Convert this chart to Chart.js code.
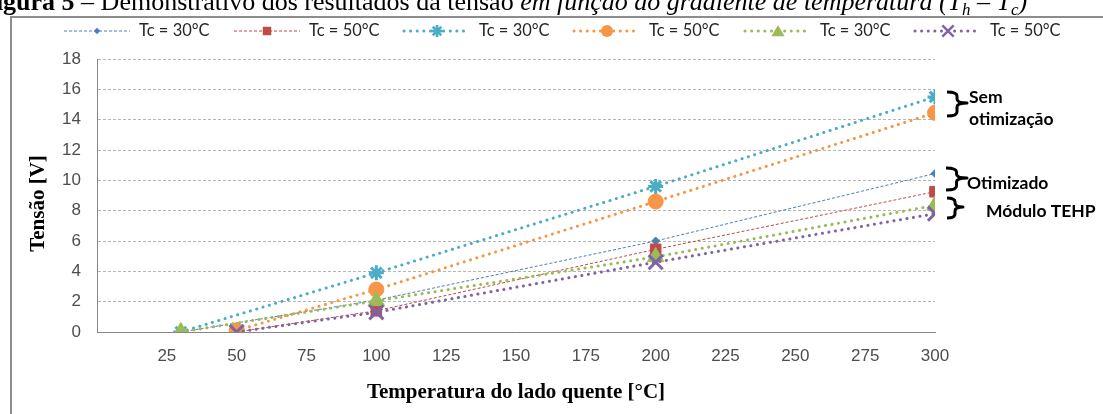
<!DOCTYPE html>
<html>
<head>
<meta charset="utf-8">
<script src="https://cdn.jsdelivr.net/npm/chart.js@4/dist/chart.umd.min.js"></script>
<style>
html,body{margin:0;padding:0;background:#fff;}
#c{display:block;}
</style>
</head>
<body>
<canvas id="c" width="1103" height="414"></canvas>
<script>
// ---- data ----
const tempsTc30 = [30, 100, 200, 300];
const tempsTc50 = [50, 100, 200, 300];
const otimizado30 = [0, 2.1, 6.0, 10.45];
const otimizado50 = [0, 1.4, 5.45, 9.25];
const semOtim30 = [0, 3.9, 9.6, 15.5];
const semOtim50 = [0.1, 2.8, 8.6, 14.45];
const tehp30 = [0, 2.05, 4.95, 8.35];
const tehp50 = [0, 1.3, 4.6, 7.8];
const seriesLabels = ['Tc = 30°C', 'Tc = 50°C', 'Tc = 30°C', 'Tc = 50°C', 'Tc = 30°C', 'Tc = 50°C'];
const xTickStep = 25;
const yTickStep = 2;
const xTitle = 'Temperatura do lado quente [°C]';
const yTitle = 'Tensão [V]';

function pts(xs, ys) { return xs.map((x, i) => ({x: x, y: ys[i]})); }

const styles = [
  {color:'#4A7EBB', width:1, dash:[3,2], cap:'butt', ps:'rectRot', r:4, pbw:1},
  {color:'#BE4B48', width:1, dash:[3,2], cap:'butt', ps:'rect', r:7.5, pbw:1},
  {color:'#4BACC6', width:3, dash:[0.1,6.5], cap:'round', ps:'star', r:7.5, pbw:3},
  {color:'#F79646', width:3, dash:[0.1,6.5], cap:'round', ps:'circle', r:7.5, pbw:1},
  {color:'#9BBB59', width:3, dash:[0.1,6.5], cap:'round', ps:'triangle', r:9.5, pbw:1},
  {color:'#8064A2', width:3, dash:[0.1,6.5], cap:'round', ps:'crossRot', r:10, pbw:3}
];
const seriesData = [
  pts(tempsTc30, otimizado30), pts(tempsTc50, otimizado50),
  pts(tempsTc30, semOtim30), pts(tempsTc50, semOtim50),
  pts(tempsTc30, tehp30), pts(tempsTc50, tehp50)
];

const datasets = seriesData.map((d, i) => ({
  label: seriesLabels[i],
  data: d,
  borderColor: styles[i].color,
  backgroundColor: styles[i].color,
  borderWidth: styles[i].width,
  borderDash: styles[i].dash,
  borderCapStyle: styles[i].cap,
  pointStyle: styles[i].ps,
  pointRadius: styles[i].r,
  pointBorderWidth: styles[i].pbw,
  pointBorderColor: styles[i].color,
  pointBackgroundColor: styles[i].color,
  tension: 0,
  order: 5 - i
}));

function marker(ctx, ps, x, y, r, bw, color) {
  ctx.save();
  ctx.fillStyle = color; ctx.strokeStyle = color; ctx.lineWidth = bw;
  ctx.setLineDash([]);
  ctx.beginPath();
  if (ps === 'circle') { ctx.arc(x, y, r, 0, Math.PI*2); ctx.fill(); }
  else if (ps === 'rect') { const s = r/Math.SQRT2; ctx.rect(x-s, y-s, 2*s, 2*s); ctx.fill(); }
  else if (ps === 'rectRot') { ctx.moveTo(x, y-r); ctx.lineTo(x+r, y); ctx.lineTo(x, y+r); ctx.lineTo(x-r, y); ctx.closePath(); ctx.fill(); }
  else if (ps === 'triangle') {
    for (let k = 0; k < 3; k++) { const a = -Math.PI/2 + k*2*Math.PI/3; const px = x + Math.cos(a)*r, py = y + Math.sin(a)*r + r*0.2; k ? ctx.lineTo(px, py) : ctx.moveTo(px, py); }
    ctx.closePath(); ctx.fill();
  } else if (ps === 'star') {
    for (let k = 0; k < 4; k++) { const a = k*Math.PI/4; ctx.moveTo(x - Math.cos(a)*r, y - Math.sin(a)*r); ctx.lineTo(x + Math.cos(a)*r, y + Math.sin(a)*r); }
    ctx.stroke();
  } else if (ps === 'crossRot') {
    const o = r*Math.SQRT1_2;
    ctx.moveTo(x-o, y-o); ctx.lineTo(x+o, y+o); ctx.moveTo(x+o, y-o); ctx.lineTo(x-o, y+o); ctx.stroke();
  }
  ctx.restore();
}

function brace(ctx, x, yTop, yBot, yTip, w) {
  const r = 4;
  ctx.beginPath();
  ctx.moveTo(x, yTop);
  ctx.quadraticCurveTo(x + w*0.5, yTop, x + w*0.5, yTop + r);
  ctx.lineTo(x + w*0.5, yTip - r);
  ctx.quadraticCurveTo(x + w*0.5, yTip, x + w, yTip);
  ctx.quadraticCurveTo(x + w*0.5, yTip, x + w*0.5, yTip + r);
  ctx.lineTo(x + w*0.5, yBot - r);
  ctx.quadraticCurveTo(x + w*0.5, yBot, x, yBot);
  ctx.stroke();
}

const decor = {
  id: 'decor',
  beforeDraw(chart) {
    const ctx = chart.ctx;
    ctx.save(); ctx.fillStyle = '#fff'; ctx.fillRect(0, 0, chart.width, chart.height); ctx.restore();
  },
  afterDraw(chart) {
    const ctx = chart.ctx;
    const ca = chart.chartArea;
    ctx.save();
    // figure frame
    ctx.strokeStyle = '#8c8c8c'; ctx.lineWidth = 2;
    ctx.beginPath(); ctx.moveTo(11, 414); ctx.lineTo(11, 17); ctx.lineTo(1103, 17); ctx.stroke();
    // caption (cut off at top)
    ctx.fillStyle = '#000'; ctx.textBaseline = 'alphabetic'; ctx.textAlign = 'left';
    let cx = -20; const cy = 10;
    const seg = (t, f, dy) => { ctx.font = f; ctx.fillText(t, cx, cy + (dy||0)); cx += ctx.measureText(t).width; };
    seg('Figura 5', 'bold 26px "Liberation Serif"');
    seg(' – Demonstrativo dos resultados da tensão ', '26px "Liberation Serif"');
    seg('em função do gradiente de temperatura (T', 'italic 26px "Liberation Serif"');
    seg('h', 'italic 17px "Liberation Serif"', 5);
    seg(' – T', 'italic 26px "Liberation Serif"');
    seg('c', 'italic 17px "Liberation Serif"', 5);
    seg(')', 'italic 26px "Liberation Serif"');
    // legend
    const lx = [64, 234, 404, 574, 745, 915];
    const ly = 31;
    chart.data.datasets.forEach((ds, i) => {
      const s = styles[i];
      ctx.save();
      ctx.strokeStyle = s.color; ctx.lineWidth = s.width; ctx.setLineDash(s.dash); ctx.lineCap = s.cap;
      ctx.beginPath(); ctx.moveTo(lx[i], ly); ctx.lineTo(lx[i] + 66, ly); ctx.stroke();
      ctx.restore();
      marker(ctx, s.ps, lx[i] + 33, ly, s.r*0.8, Math.min(s.pbw, 2.5), s.color);
      ctx.fillStyle = '#262626'; ctx.font = '16.5px Lato'; ctx.textBaseline = 'middle'; ctx.textAlign = 'left';
      ctx.fillText(ds.label, lx[i] + 75, ly);
    });
    // axis titles
    ctx.fillStyle = '#000';
    ctx.font = 'bold 21px "Liberation Serif"';
    ctx.textAlign = 'center'; ctx.textBaseline = 'middle';
    ctx.fillText(xTitle, (ca.left + ca.right)/2, 393);
    ctx.save(); ctx.translate(39, (ca.top + ca.bottom)/2 + 8); ctx.rotate(-Math.PI/2);
    ctx.fillText(yTitle, 0, 0); ctx.restore();
    // annotations
    ctx.strokeStyle = '#000'; ctx.lineWidth = 3; ctx.lineCap = 'butt'; ctx.lineJoin = 'round';
    brace(ctx, 947, 92, 116, 103, 20);
    brace(ctx, 946, 168, 190, 178, 21);
    brace(ctx, 947, 198, 218, 207, 16);
    ctx.font = 'bold 17.5px Lato'; ctx.textAlign = 'left'; ctx.textBaseline = 'middle'; ctx.fillStyle = '#000';
    ctx.fillText('Sem', 969, 97);
    ctx.fillText('otimização', 969, 119);
    ctx.fillText('Otimizado', 967, 183);
    ctx.fillText('Módulo TEHP', 986, 211);
    ctx.restore();
  }
};

new Chart(document.getElementById('c'), {
  type: 'line',
  data: { datasets: datasets },
  plugins: [decor],
  options: {
    responsive: false,
    animation: false,
    devicePixelRatio: 1,
    layout: { padding: { top: 59, right: 168, left: 0, bottom: 0 } },
    plugins: { legend: { display: false }, tooltip: { enabled: false }, title: { display: false } },
    elements: { line: { fill: false } },
    scales: {
      x: {
        type: 'linear', min: 0, max: 300,
        afterFit: s => { s.height = 82; },
        grid: { display: false, drawTicks: false },
        border: { display: true, color: '#868686', width: 1 },
        ticks: {
          stepSize: xTickStep, autoSkip: false, maxRotation: 0, padding: 14,
          color: '#4d4d4d', font: { family: '"Liberation Sans"', size: 17 },
          callback: v => v === 0 ? '' : v
        }
      },
      y: {
        min: 0, max: 18,
        afterFit: s => { s.width = 97; },
        grid: { color: '#b5b5b5', lineWidth: 1, drawTicks: false },
        border: { display: true, color: '#868686', width: 1, dash: [3, 2] },
        ticks: {
          stepSize: yTickStep, padding: 16,
          color: '#4d4d4d', font: { family: '"Liberation Sans"', size: 17 }
        }
      }
    }
  }
});
</script>
</body>
</html>
